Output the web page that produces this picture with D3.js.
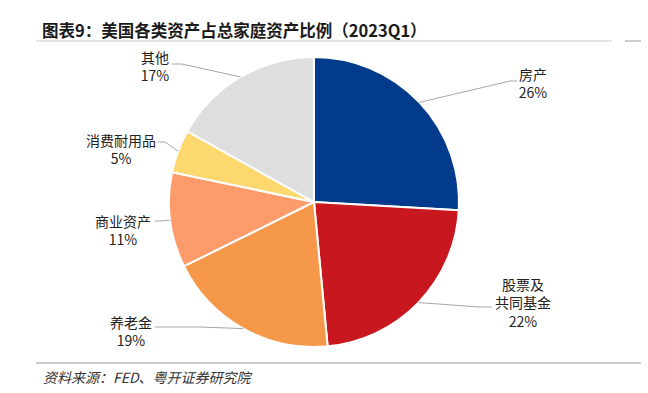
<!DOCTYPE html>
<html>
<head>
<meta charset="utf-8">
<script src="https://cdn.jsdelivr.net/npm/d3@7"></script>
<style>
  body { margin: 0; background: #fff; }
  text { font-family: "Noto Sans CJK SC", sans-serif; fill: #222; }
</style>
</head>
<body>
<div id="chart"></div>
<script>
// data
var categories = ["房产", "股票及共同基金", "养老金", "商业资产", "消费耐用品", "其他"];
var shares     = [25.9, 22.6, 19.2, 10.6, 4.8, 16.9];
var pctLabels  = ["26%", "22%", "19%", "11%", "5%", "17%"];
var nameLines  = [["房产"], ["股票及", "共同基金"], ["养老金"], ["商业资产"], ["消费耐用品"], ["其他"]];
var colors     = ["#023a8c", "#c8171f", "#f5984a", "#fd9b6b", "#fdd86e", "#dedede"];

// label layout (text centre x, first line y, elbow point)
var labelPos = [
  {x: 533, y: 75,  ex: 510, ey: 81,  tx: 517},
  {x: 523, y: 285, ex: 480, ey: 307, tx: 492},
  {x: 131, y: 323, ex: 200, ey: 327, tx: 155},
  {x: 123, y: 222, ex: 160, ey: 221, tx: 155},
  {x: 121, y: 141, ex: 165, ey: 142, tx: 158},
  {x: 155, y: 58,  ex: 182, ey: 64,  tx: 172}
];

var W = 648, H = 393;
var cx = 314, cy = 202, R = 145;

var svg = d3.select("#chart").append("svg")
  .attr("width", W)
  .attr("height", H);

// title
svg.append("text")
  .attr("x", 42).attr("y", 31)
  .attr("dy", "0.35em")
  .style("font-size", "16.5px")
  .style("font-weight", "bold")
  .style("fill", "#1a1a1a")
  .text("图表9：美国各类资产占总家庭资产比例（2023Q1）");

svg.append("line")
  .attr("x1", 36).attr("x2", 612).attr("y1", 41).attr("y2", 41)
  .attr("stroke", "#c8c8c8").attr("stroke-width", 1);
svg.append("line")
  .attr("x1", 625).attr("x2", 641).attr("y1", 41).attr("y2", 41)
  .attr("stroke", "#999").attr("stroke-width", 1);

// pie
var pie = d3.pie().sort(null).value(function(d) { return d; });
var arc = d3.arc().innerRadius(0).outerRadius(R);
var arcs = pie(shares);

var g = svg.append("g")
  .attr("transform", "translate(" + cx + "," + cy + ")");

g.selectAll("path")
  .data(arcs)
  .enter().append("path")
  .attr("d", arc)
  .attr("fill", function(d, i) { return colors[i]; })
  .attr("stroke", "#fff")
  .attr("stroke-width", 2);

// leader lines
arcs.forEach(function(d, i) {
  var mid = (d.startAngle + d.endAngle) / 2;
  var px = cx + R * Math.sin(mid);
  var py = cy - R * Math.cos(mid);
  var p = labelPos[i];
  svg.append("polyline")
    .attr("points", [[px, py], [p.ex, p.ey], [p.tx, p.ey]].map(function(q) { return q.join(","); }).join(" "))
    .attr("fill", "none")
    .attr("stroke", "#a6a6a6")
    .attr("stroke-width", 1);
});

// labels
arcs.forEach(function(d, i) {
  var p = labelPos[i];
  var lines = nameLines[i].concat([pctLabels[i]]);
  var t = svg.append("text")
    .attr("text-anchor", "middle")
    .style("font-size", "14px");
  lines.forEach(function(s, k) {
    t.append("tspan")
      .attr("x", p.x)
      .attr("y", p.y + k * 18.5)
      .attr("dy", "0.35em")
      .text(s);
  });
});

// footer
svg.append("line")
  .attr("x1", 36).attr("x2", 641).attr("y1", 363).attr("y2", 363)
  .attr("stroke", "#999").attr("stroke-width", 1.2);

svg.append("text")
  .attr("x", 43).attr("y", 378)
  .attr("dy", "0.35em")
  .style("font-size", "14px")
  .style("font-style", "italic")
  .style("fill", "#333")
  .text("资料来源：FED、粤开证券研究院");
</script>
</body>
</html>
